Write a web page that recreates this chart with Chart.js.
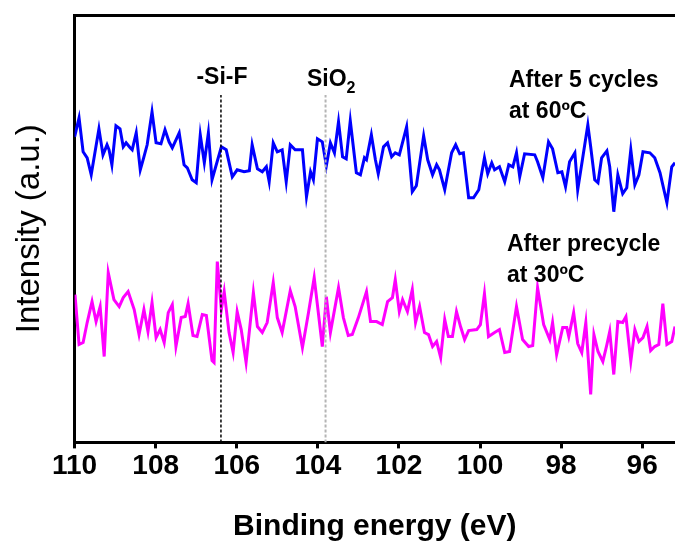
<!DOCTYPE html>
<html>
<head>
<meta charset="utf-8">
<script src="https://cdn.jsdelivr.net/npm/chart.js@4.4.1/dist/chart.umd.min.js"></script>
<style>
  html, body { margin: 0; padding: 0; background: #fff; }
  #wrap { width: 675px; height: 552px; }
</style>
</head>
<body>
<div id="wrap"><canvas id="c" width="675" height="552"></canvas></div>
<script>
// ---- data ----
const xTicks = [110, 108, 106, 104, 102, 100, 98, 96];
const xMin = 95.19, xMax = 110;

const blueE = [110.00,109.89,109.79,109.69,109.59,109.40,109.30,109.20,109.15,109.08,
108.98,108.88,108.80,108.73,108.63,108.58,108.48,108.38,108.29,108.21,
108.09,107.99,107.87,107.77,107.67,107.59,107.42,107.30,107.22,107.10,
107.00,106.90,106.80,106.70,106.61,106.38,106.26,106.11,105.99,105.82,
105.69,105.62,105.49,105.37,105.27,105.20,105.10,105.00,104.88,104.78,
104.68,104.56,104.38,104.28,104.18,104.11,104.01,103.89,103.79,103.69,
103.59,103.49,103.39,103.30,103.20,103.05,102.95,102.85,102.80,102.68,
102.58,102.51,102.38,102.28,102.18,102.09,101.99,101.81,101.67,101.57,
101.39,101.29,101.17,101.07,101.00,100.87,100.70,100.60,100.50,100.41,
100.28,100.16,100.03,99.89,99.81,99.71,99.64,99.52,99.39,99.29,
99.19,99.10,99.02,98.90,98.65,98.58,98.45,98.31,98.21,98.08,
97.98,97.89,97.79,97.66,97.59,97.47,97.34,97.27,97.17,97.09,
97.00,96.87,96.80,96.70,96.60,96.48,96.38,96.28,96.18,96.08,
95.98,95.81,95.69,95.56,95.39,95.27,95.19];
const blueI = [306,325,291,285,268,314,288,298,293,278,
317,314,296,300,295,293,310,273,286,298,
331,300,299,313,301,295,310,278,275,263,
260,308,280,310,263,296,293,266,273,271,
272,298,274,271,276,261,300,291,293,261,
298,293,293,246,271,263,304,301,277,300,
290,321,286,284,322,270,268,285,283,308,
283,269,296,300,286,290,288,316,251,257,
307,283,268,278,273,253,290,298,289,290,
245,245,253,285,269,280,273,276,261,278,
276,290,266,289,288,281,265,301,294,270,
271,256,281,290,253,284,318,296,263,260,
285,292,276,231,268,249,255,293,258,268,
291,290,285,270,240,276,280];

const magE = [109.99,109.89,109.79,109.69,109.57,109.47,109.37,109.27,109.17,109.03,
108.90,108.80,108.68,108.53,108.41,108.29,108.19,108.09,107.99,107.89,
107.79,107.69,107.59,107.50,107.37,107.27,107.20,107.08,106.98,106.85,
106.75,106.61,106.56,106.48,106.38,106.31,106.19,106.09,105.99,105.89,
105.77,105.59,105.49,105.37,105.25,105.10,105.00,104.88,104.68,104.56,
104.38,104.23,104.09,103.89,103.79,103.69,103.49,103.37,103.25,103.15,
103.00,102.80,102.70,102.55,102.41,102.28,102.16,102.09,101.99,101.91,
101.79,101.67,101.59,101.49,101.37,101.27,101.17,101.07,100.97,100.87,
100.78,100.68,100.58,100.48,100.38,100.28,100.08,99.99,99.89,99.79,
99.64,99.52,99.39,99.27,99.10,98.95,98.80,98.70,98.58,98.43,
98.28,98.21,98.11,97.96,97.86,97.81,97.69,97.59,97.49,97.39,
97.27,97.19,97.09,96.97,96.87,96.80,96.70,96.60,96.48,96.40,
96.28,96.18,96.08,95.98,95.88,95.79,95.69,95.59,95.49,95.39,
95.27,95.19];
const magI = [148,98,100,120,141,121,136,86,170,143,
136,145,151,133,108,133,111,140,105,113,
100,130,138,96,125,126,139,107,106,128,
127,82,80,181,133,151,110,90,131,113,
80,150,116,110,120,160,125,110,152,136,
95,130,165,96,146,110,155,125,107,108,
125,151,121,121,118,141,145,163,131,143,
131,153,120,136,110,108,96,101,85,123,
106,106,131,116,103,112,113,118,149,106,
110,113,90,91,136,103,96,97,155,118,
103,120,88,115,115,106,130,99,90,120,
48,108,91,81,98,111,68,121,120,126,
81,113,101,105,116,92,96,98,139,98,
101,116];

// reference lines (binding energies) and their top value
const refLines = [106.39, 103.81];
const refTop = 348;
const yMin = 0, yMax = 428;

// ---- build ----
const FONT = "'Liberation Sans', Arial, sans-serif";
const toXY = (xs, ys) => xs.map((x, i) => ({ x: x, y: ys[i] }));

const annot = {
  id: 'annot',
  afterDraw(chart) {
    const ctx = chart.ctx;
    const xs = chart.scales.x;
    ctx.save();
    ctx.fillStyle = '#000';
    ctx.textBaseline = 'alphabetic';
    // -Si-F
    ctx.font = 'bold 23px ' + FONT;
    ctx.textAlign = 'center';
    ctx.fillText('-Si-F', xs.getPixelForValue(refLines[0]) + 1, 84);
    // SiO2
    ctx.textAlign = 'left';
    ctx.font = 'bold 23px ' + FONT;
    const sx = 307;
    ctx.fillText('SiO', sx, 86);
    const w = ctx.measureText('SiO').width;
    ctx.font = 'bold 16px ' + FONT;
    ctx.fillText('2', sx + w, 93);
    // series labels
    ctx.font = 'bold 23px ' + FONT;
    ctx.fillText('After 5 cycles', 509, 87);
    ctx.fillText('at 60\u00BAC', 509, 118);
    ctx.fillText('After precycle', 507, 251);
    ctx.fillText('at 30\u00BAC', 507, 282);
    ctx.restore();
  }
};

new Chart(document.getElementById('c'), {
  type: 'line',
  data: {
    datasets: [
      { data: [{x: refLines[0], y: yMin}, {x: refLines[0], y: refTop}], borderColor: '#000', borderWidth: 1.5, borderDash: [3, 2], pointRadius: 0 },
      { data: [{x: refLines[1], y: yMin}, {x: refLines[1], y: refTop}], borderColor: '#b4b4b4', borderWidth: 2, borderDash: [3, 2], pointRadius: 0 },
      { label: 'After 5 cycles at 60ºC', data: toXY(blueE, blueI), borderColor: '#0000ff', borderWidth: 3, pointRadius: 0, tension: 0 },
      { label: 'After precycle at 30ºC', data: toXY(magE, magI), borderColor: '#ff00ff', borderWidth: 3, pointRadius: 0, tension: 0 }
    ]
  },
  options: {
    responsive: false,
    animation: false,
    devicePixelRatio: 1,
    layout: { padding: { top: 15, left: 0, right: 0, bottom: 0 } },
    plugins: { legend: { display: false }, tooltip: { enabled: false } },
    scales: {
      x: {
        type: 'linear', position: 'bottom', reverse: true, min: xMin, max: xMax,
        afterBuildTicks: (s) => { s.ticks = xTicks.map(v => ({ value: v })); },
        ticks: { color: '#000', padding: 1, font: { family: FONT, size: 28, weight: 'bold' }, maxRotation: 0, autoSkip: false },
        grid: { display: true, drawOnChartArea: false, drawTicks: true, tickLength: 6, tickWidth: 3, tickColor: '#000' },
        border: { display: true, width: 3, color: '#000' },
        title: { display: true, text: 'Binding energy (eV)', color: '#000', font: { family: FONT, size: 30, weight: 'bold' }, padding: { top: 25, bottom: 7 } }
      },
      x2: {
        type: 'linear', position: 'top', reverse: true, min: xMin, max: xMax,
        ticks: { display: false },
        grid: { display: false, drawTicks: false, tickLength: 0 },
        border: { display: true, width: 3, color: '#000' }
      },
      y: {
        type: 'linear', position: 'left', min: yMin, max: yMax,
        ticks: { display: false },
        grid: { display: false, drawTicks: false, tickLength: 0 },
        border: { display: true, width: 3, color: '#000' },
        title: { display: true, text: 'Intensity (a.u.)', color: '#000', font: { family: FONT, size: 33, weight: 'normal' }, padding: { top: 10, bottom: 25 } }
      }
    }
  },
  plugins: [annot]
});
</script>
</body>
</html>
